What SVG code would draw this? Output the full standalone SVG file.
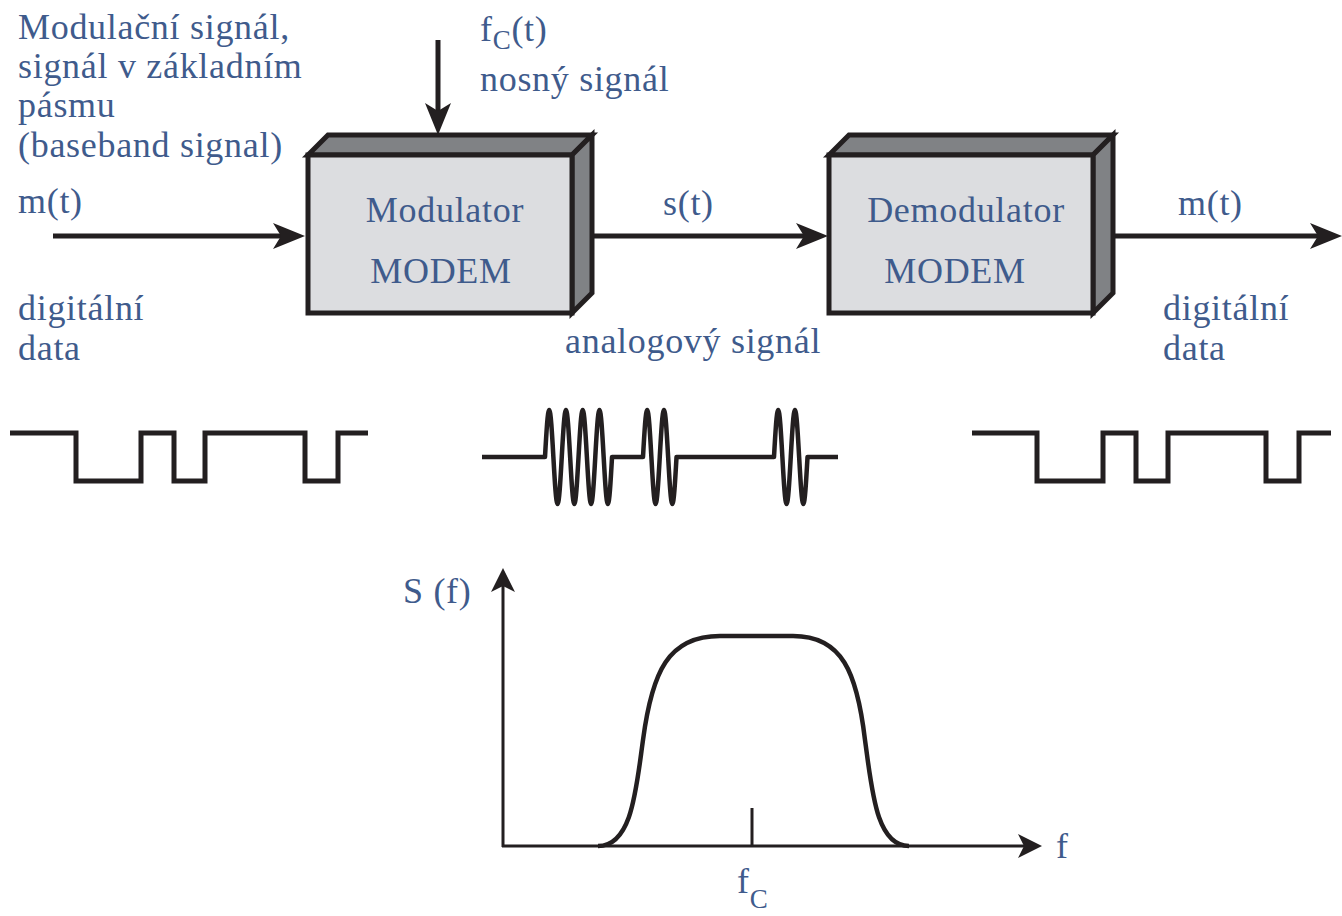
<svg xmlns="http://www.w3.org/2000/svg" width="1342" height="916" viewBox="0 0 1342 916">
<style>
.t{font-family:"Liberation Serif","Times New Roman",serif;font-size:36px;letter-spacing:0.7px;fill:#3f5b8c}
.box{stroke:#231f20;stroke-width:5;stroke-linejoin:miter}
.front{fill:#dcdde0}
.side{fill:#808285}
.conn{stroke:#231f20;stroke-width:5;fill:none}
.ax{stroke:#231f20;stroke-width:3;fill:none}
.sig{stroke:#231f20;stroke-width:5;fill:none;stroke-linejoin:miter}
.wave{stroke:#231f20;stroke-width:4.5;fill:none;stroke-linejoin:round}
</style>
<defs>
<marker id="ah" markerUnits="userSpaceOnUse" viewBox="-8 -13 32 26" refX="0" refY="0" markerWidth="32" markerHeight="26" orient="auto">
<path d="M24,0 L-8,-13 L0,0 L-8,13 Z" fill="#231f20"/>
</marker>
<marker id="ah2" markerUnits="userSpaceOnUse" viewBox="-6 -12 24 24" refX="0" refY="0" markerWidth="24" markerHeight="24" orient="auto">
<path d="M18,0 L-6,-12 L0,0 L-6,12 Z" fill="#231f20"/>
</marker>
</defs>

<g id="connectors">
<line class="conn" x1="53" y1="236" x2="281" y2="236" marker-end="url(#ah)"/>
<line class="conn" x1="592" y1="236" x2="804" y2="236" marker-end="url(#ah)"/>
<line class="conn" x1="1113" y1="236" x2="1318" y2="236" marker-end="url(#ah)"/>
<line class="conn" x1="438" y1="40" x2="438" y2="111" marker-end="url(#ah)"/>
</g>

<g id="modulator">
<polygon class="box side" points="308,155 328,135 592,135 572,155"/>
<polygon class="box side" points="572,155 592,135 592,293 572,313"/>
<rect class="box front" x="308" y="155" width="264" height="158"/>
<text class="t" x="445" y="222" text-anchor="middle">Modulator</text>
<text class="t" x="441" y="283" text-anchor="middle">MODEM</text>
</g>

<g id="demodulator">
<polygon class="box side" points="829,155 849,135 1113,135 1093,155"/>
<polygon class="box side" points="1093,155 1113,135 1113,293 1093,313"/>
<rect class="box front" x="829" y="155" width="264" height="158"/>
<text class="t" x="966" y="222" text-anchor="middle">Demodulator</text>
<text class="t" x="955" y="283" text-anchor="middle">MODEM</text>
</g>

<g id="labels">
<text class="t" x="18" y="39">Modulační signál,</text>
<text class="t" x="18" y="78">signál v základním</text>
<text class="t" x="18" y="117">pásmu</text>
<text class="t" x="18" y="157">(baseband signal)</text>
<text class="t" x="480" y="41">f<tspan font-size="27" dy="8">C</tspan><tspan dy="-8">(t)</tspan></text>
<text class="t" x="480" y="91">nosný signál</text>
<text class="t" x="18" y="213">m(t)</text>
<text class="t" x="18" y="320">digitální</text>
<text class="t" x="18" y="360">data</text>
<text class="t" x="663" y="215">s(t)</text>
<text class="t" x="565" y="353">analogový signál</text>
<text class="t" x="1178" y="215">m(t)</text>
<text class="t" x="1163" y="320">digitální</text>
<text class="t" x="1163" y="360">data</text>
</g>

<g id="signal-digital-in">
<path class="sig" d="M10,433 H76 V481 H141 V433 H174 V481 H205 V433 H305 V481 H338 V433 H368"/>
</g>
<g id="signal-analog">
<path class="wave" d="M482,457 H545
c1.4,-24.68 2.67,-47 4.19,-47 c1.52,0 2.79,22.32 4.19,47 c1.4,24.68 2.67,47 4.19,47 c1.52,0 2.79,-22.32 4.19,-47
c1.4,-24.68 2.67,-47 4.19,-47 c1.52,0 2.79,22.32 4.19,47 c1.4,24.68 2.67,47 4.19,47 c1.52,0 2.79,-22.32 4.19,-47
c1.4,-24.68 2.67,-47 4.19,-47 c1.52,0 2.79,22.32 4.19,47 c1.4,24.68 2.67,47 4.19,47 c1.52,0 2.79,-22.32 4.19,-47
c1.4,-24.68 2.67,-47 4.19,-47 c1.52,0 2.79,22.32 4.19,47 c1.4,24.68 2.67,47 4.19,47 c1.52,0 2.79,-22.32 4.19,-47
H643
c1.4,-24.68 2.67,-47 4.19,-47 c1.52,0 2.79,22.32 4.19,47 c1.4,24.68 2.67,47 4.19,47 c1.52,0 2.79,-22.32 4.19,-47
c1.4,-24.68 2.67,-47 4.19,-47 c1.52,0 2.79,22.32 4.19,47 c1.4,24.68 2.67,47 4.19,47 c1.52,0 2.79,-22.32 4.19,-47
H774
c1.4,-24.68 2.67,-47 4.19,-47 c1.52,0 2.79,22.32 4.19,47 c1.4,24.68 2.67,47 4.19,47 c1.52,0 2.79,-22.32 4.19,-47
c1.4,-24.68 2.67,-47 4.19,-47 c1.52,0 2.79,22.32 4.19,47 c1.4,24.68 2.67,47 4.19,47 c1.52,0 2.79,-22.32 4.19,-47
H838"/>
</g>
<g id="signal-digital-out">
<path class="sig" d="M972,433 H1037 V481 H1103 V433 H1136 V481 H1168 V433 H1266 V481 H1299 V433 H1331"/>
</g>

<g id="spectrum">
<line class="ax" x1="503" y1="847" x2="503" y2="586" marker-end="url(#ah2)"/>
<line class="ax" x1="502" y1="846" x2="1024" y2="846" marker-end="url(#ah2)"/>
<line class="ax" x1="752" y1="808" x2="752" y2="846" stroke-width="2.5"/>
<path d="M598,846 C632,846 636,790 643,740 C652,672 668,636 720,636 H793 C842,636 857,672 865,740 C872,790 876,846 909,846" fill="none" stroke="#231f20" stroke-width="4.5"/>
<text class="t" x="403" y="603">S (f)</text>
<text class="t" x="1056" y="858">f</text>
<text class="t" x="737" y="893">f<tspan font-size="27" dy="15">C</tspan></text>
</g>
</svg>
